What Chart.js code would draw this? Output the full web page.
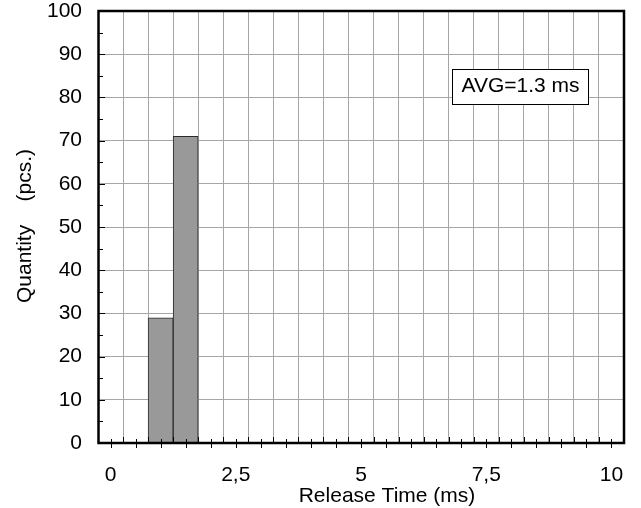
<!DOCTYPE html>
<html><head><meta charset="utf-8">
<script src="https://cdn.jsdelivr.net/npm/chart.js@4"></script>
<style>html,body{margin:0;padding:0;background:#fff}canvas{display:block}</style>
</head><body>
<canvas id="c" width="641" height="508"></canvas>
<script>
const categories = ['0','0,5','1','1,5','2','2,5','3','3,5','4','4,5','5','5,5','6','6,5','7','7,5','8','8,5','9','9,5','10'];
const counts = [0,0,29,71,0,0,0,0,0,0,0,0,0,0,0,0,0,0,0,0,0];
const xTickLabels = ['0','2,5','5','7,5','10'];
const yMin = 0, yMax = 100, yStep = 10, yMinorStep = 5;
const xTitle = 'Release Time (ms)';
const yTitle = 'Quantity    (pcs.)';
const avgText = 'AVG=1.3 ms';
const FONT = "'Liberation Sans', Arial, sans-serif";

const decor = {
  id: 'decor',
  afterDatasetsDraw(chart) {
    const {ctx, chartArea: a, scales: {x, y}} = chart;
    ctx.save();
    ctx.strokeStyle = '#000';
    ctx.lineWidth = 1;
    ctx.beginPath();
    for (let i = 0; i < categories.length; i++) {
      const p = Math.round(x.getPixelForTick(i)) + 0.5;
      ctx.moveTo(p, a.bottom - 4); ctx.lineTo(p, a.bottom + 5);
      if (i < categories.length - 1) {
        const q = Math.round((x.getPixelForTick(i) + x.getPixelForTick(i + 1)) / 2) + 0.5;
        ctx.moveTo(q, a.bottom - 6); ctx.lineTo(q, a.bottom);
      }
    }
    for (let v = yMin; v <= yMax; v += yMinorStep) {
      const py = Math.round(y.getPixelForValue(v)) + 0.5;
      const len = (v % yStep === 0) ? 7 : 5;
      ctx.moveTo(a.left, py); ctx.lineTo(a.left + len, py);
    }
    ctx.stroke();
    // frame
    ctx.lineWidth = 2.5;
    ctx.strokeRect(a.left + 0.5, a.top, a.right - a.left - 0.5, a.bottom - a.top);
    // AVG box
    const bx = a.right - 171.5, by = a.top + 58.5, bw = 136, bh = 35;
    ctx.fillStyle = '#fff';
    ctx.fillRect(bx, by, bw, bh);
    ctx.lineWidth = 1;
    ctx.strokeRect(bx, by, bw, bh);
    ctx.fillStyle = '#000';
    ctx.font = '21px ' + FONT;
    ctx.textAlign = 'center';
    ctx.textBaseline = 'alphabetic';
    ctx.fillText(avgText, bx + bw / 2, by + 22.5);
    // titles
    ctx.fillText(xTitle, (a.left + a.right) / 2 + 26, 502);
    ctx.translate(31, (a.top + a.bottom) / 2 - 1);
    ctx.rotate(-Math.PI / 2);
    ctx.fillText(yTitle, 0, 0);
    ctx.restore();
  }
};

new Chart(document.getElementById('c'), {
  type: 'bar',
  data: {
    labels: categories,
    datasets: [{
      data: counts,
      backgroundColor: '#999999',
      borderColor: '#2b2b2b',
      borderWidth: 1,
      barPercentage: 1,
      categoryPercentage: 1
    }]
  },
  options: {
    responsive: false,
    animation: false,
    events: [],
    layout: {padding: {top: 11, right: 17, left: 0, bottom: 0}},
    plugins: {legend: {display: false}, tooltip: {enabled: false}},
    scales: {
      x: {
        type: 'category',
        offset: true,
        grid: {
          offset: true,
          drawTicks: false,
          lineWidth: 1,
          color: c => (c.type !== 'tick' || c.index === 0) ? 'rgba(0,0,0,0)' : '#a6a6a6'
        },
        border: {display: false},
        ticks: {
          autoSkip: false, maxRotation: 0, minRotation: 0, padding: 20, color: '#000',
          font: {family: FONT, size: 21},
          callback: (v, i) => xTickLabels.includes(categories[i]) ? categories[i] : ''
        },
        afterFit: s => { s.height = 65; s.paddingLeft = 0; s.paddingRight = 0; }
      },
      y: {
        min: yMin, max: yMax,
        ticks: {stepSize: yStep, padding: 16, color: '#000', font: {family: FONT, size: 21}},
        grid: {
          drawTicks: false, lineWidth: 1,
          color: c => (c.tick && (c.tick.value === yMin || c.tick.value === yMax)) ? 'rgba(0,0,0,0)' : '#a6a6a6'
        },
        border: {display: false},
        afterFit: s => { s.width = 98; s.paddingTop = 0; s.paddingBottom = 0; }
      }
    }
  },
  plugins: [decor]
});
</script>
</body></html>
